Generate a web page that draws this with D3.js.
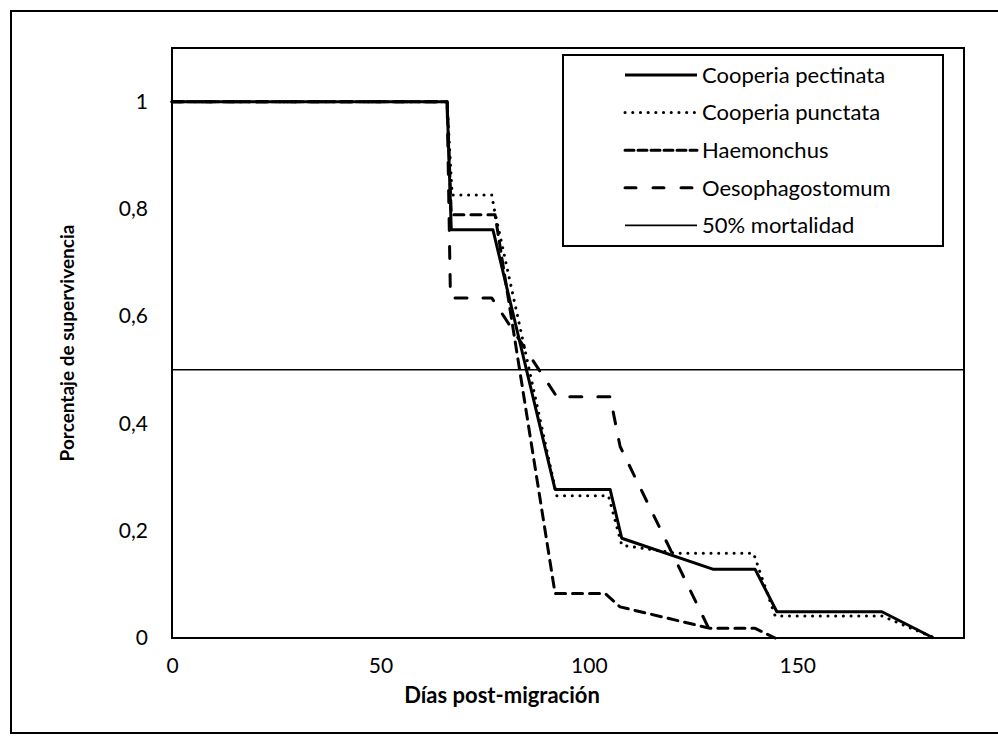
<!DOCTYPE html>
<html>
<head>
<meta charset="utf-8">
<script src="https://cdn.jsdelivr.net/npm/d3@7"></script>
<style>
  body { margin: 0; background: #fff; }
  text { font-family: Lato, "Open Sans", sans-serif; fill: #000; }
</style>
</head>
<body>
<svg></svg>
<script>
// dimensiones del svg
var WIDTH = 998;
var HEIGHT = 744;
var margin = {top: 48, right: 34, bottom: 106, left: 172};

// datos (dias, proporcion de supervivencia)
const diasPectinata = [0, 66, 67, 77, 91.9, 105.1, 107.9, 129.9, 139.9, 145.1, 170.3, 182.7];
const supPectinata  = [1, 1, 0.761, 0.761, 0.277, 0.277, 0.186, 0.128, 0.128, 0.049, 0.049, 0];

const diasPunctata = [0, 66, 67.2, 76.7, 77.3, 92.3, 104.7, 107.9, 121, 139.5, 144.7, 170.3, 183];
const supPunctata  = [1, 1, 0.826, 0.826, 0.8, 0.265, 0.265, 0.173, 0.158, 0.158, 0.041, 0.041, 0];

const diasHaemonchus = [0, 66, 67, 77.5, 91.9, 103.9, 107.5, 129.1, 139.9, 144.7];
const supHaemonchus  = [1, 1, 0.789, 0.789, 0.083, 0.083, 0.058, 0.018, 0.018, 0];

const diasOesophago = [0, 66, 66.8, 76.7, 92.3, 105.1, 107.5, 129.9];
const supOesophago  = [1, 1, 0.634, 0.634, 0.45, 0.45, 0.357, 0];

const nombres = ["Cooperia pectinata", "Cooperia punctata", "Haemonchus", "Oesophagostomum", "50% mortalidad"];
const mortalidad = 0.5;

const xTicks = [0, 50, 100, 150];
const yTicks = [0, 0.2, 0.4, 0.6, 0.8, 1];

// estilos de cada serie
const estilos = [
  {width: 3, dash: null, cap: "butt"},
  {width: 3, dash: "0.1,7.6", cap: "round"},
  {width: 3, dash: "10,7", cap: "round"},
  {width: 3, dash: "12,16", cap: "round"},
  {width: 1.6, dash: null, cap: "butt"}
];

const series = [
  diasPectinata.map((d, i) => [d, supPectinata[i]]),
  diasPunctata.map((d, i) => [d, supPunctata[i]]),
  diasHaemonchus.map((d, i) => [d, supHaemonchus[i]]),
  diasOesophago.map((d, i) => [d, supOesophago[i]])
];

const svg = d3.select('svg')
    .attr('width', WIDTH)
    .attr('height', HEIGHT);

// marco exterior (el borde derecho queda fuera de la imagen)
svg.append('rect')
    .attr('x', 11).attr('y', 11)
    .attr('width', 995).attr('height', 722)
    .attr('fill', 'none')
    .attr('stroke', '#000')
    .attr('stroke-width', 2);

var x = d3.scaleLinear()
    .domain([0, 190])
    .range([margin.left, WIDTH - margin.right]);
var y = d3.scaleLinear()
    .domain([0, 1.1])
    .range([HEIGHT - margin.bottom, margin.top]);

// formato con coma decimal
var es = d3.formatLocale({decimal: ",", thousands: ".", grouping: [3], currency: ["", "€"]});
var fmt = es.format("~g");

// eje x
svg.append('g')
    .attr('transform', 'translate(0,' + y(0) + ')')
    .call(d3.axisBottom(x).tickValues(xTicks).tickSize(0).tickPadding(20).tickFormat(fmt))
    .call(g => g.select('.domain').remove())
    .selectAll('text')
    .attr('font-size', 21)
    .style('font-family', 'Lato, sans-serif');

// eje y
svg.append('g')
    .attr('transform', 'translate(' + x(0) + ',0)')
    .call(d3.axisLeft(y).tickValues(yTicks).tickSize(0).tickPadding(24).tickFormat(fmt))
    .call(g => g.select('.domain').remove())
    .selectAll('text')
    .attr('font-size', 21)
    .style('font-family', 'Lato, sans-serif');

// linea del 50% de mortalidad
svg.append('line')
    .attr('x1', x(0)).attr('x2', x(190))
    .attr('y1', y(mortalidad)).attr('y2', y(mortalidad))
    .attr('stroke', '#000')
    .attr('stroke-width', estilos[4].width);

var line = d3.line()
    .x(d => x(d[0]))
    .y(d => y(d[1]));

svg.append('g').selectAll('path')
    .data(series)
    .enter()
    .append('path')
    .attr('d', line)
    .attr('fill', 'none')
    .attr('stroke', '#000')
    .attr('stroke-width', (d, i) => estilos[i].width)
    .attr('stroke-dasharray', (d, i) => estilos[i].dash)
    .attr('stroke-linecap', (d, i) => estilos[i].cap)
    .attr('stroke-linejoin', 'round');

// borde del area del grafico
svg.append('rect')
    .attr('x', x(0)).attr('y', y(1.1))
    .attr('width', x(190) - x(0)).attr('height', y(0) - y(1.1))
    .attr('fill', 'none')
    .attr('stroke', '#000')
    .attr('stroke-width', 2);

// titulos de los ejes
svg.append('text')
    .attr('x', 502)
    .attr('y', 703)
    .attr('text-anchor', 'middle')
    .attr('font-size', 22)
    .attr('font-weight', 'bold')
    .text('Días post-migración');

svg.append('text')
    .attr('transform', 'translate(74,' + ((y(0) + y(1.1)) / 2) + ') rotate(-90)')
    .attr('text-anchor', 'middle')
    .attr('font-size', 19)
    .attr('font-weight', 'bold')
    .text('Porcentaje de supervivencia');

// leyenda
var legend = svg.append('g');
legend.append('rect')
    .attr('x', 563).attr('y', 55)
    .attr('width', 380).attr('height', 191)
    .attr('fill', '#fff')
    .attr('stroke', '#000')
    .attr('stroke-width', 2);

var item = legend.selectAll('g.item')
    .data(nombres)
    .enter()
    .append('g')
    .attr('class', 'item')
    .attr('transform', (d, i) => 'translate(0,' + (75 + i * 37.6) + ')');

item.append('line')
    .attr('x1', 625).attr('x2', 697)
    .attr('stroke', '#000')
    .attr('stroke-width', (d, i) => estilos[i].width)
    .attr('stroke-dasharray', (d, i) => i == 2 ? "9,4" : (i == 3 ? "11,17" : estilos[i].dash))
    .attr('stroke-linecap', (d, i) => estilos[i].cap);

item.append('text')
    .attr('x', 702)
    .attr('dy', '0.35em')
    .attr('font-size', 22)
    .text(d => d);
</script>
</body>
</html>
